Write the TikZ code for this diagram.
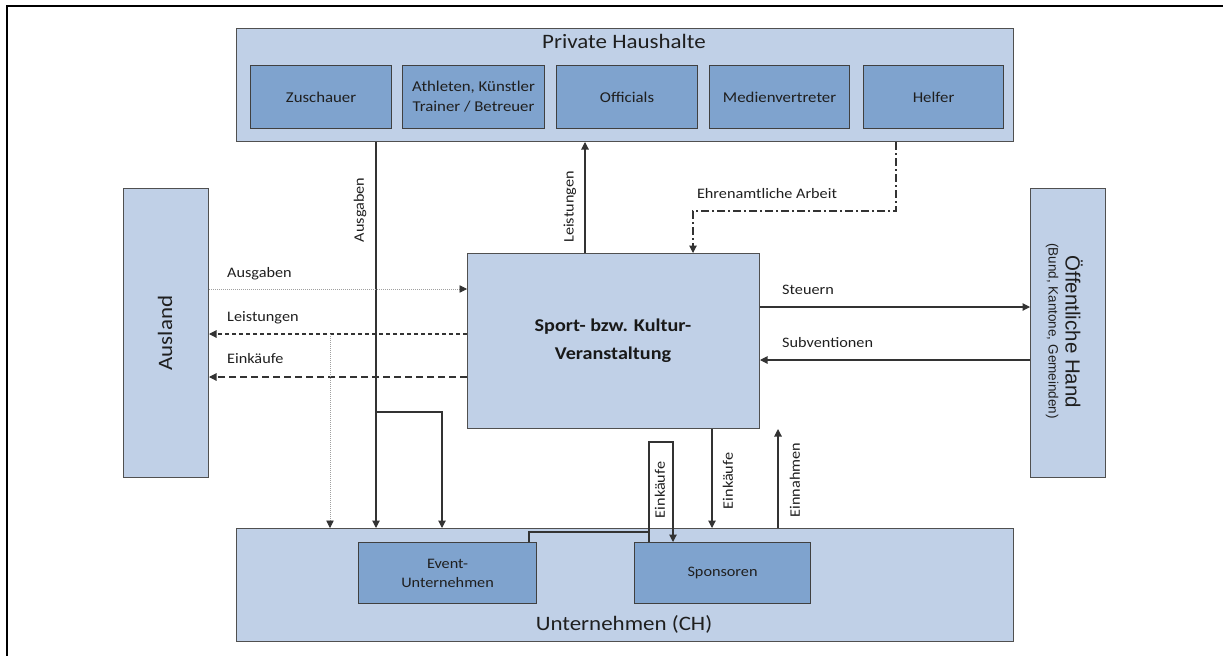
\documentclass[tikz,border=0pt]{standalone}
\usepackage{fontspec}
\setmainfont{Carlito}[FakeStretch=1.12]
\newfontfamily\arialf{Liberation Sans}
\usetikzlibrary{arrows.meta}
\definecolor{lightbox}{HTML}{C0D0E7}
\definecolor{darkbox}{HTML}{7FA3CE}
\definecolor{edgegray}{HTML}{505050}
\definecolor{linegray}{HTML}{333333}
\definecolor{dotgray}{HTML}{A0A0A0}
\definecolor{txt}{HTML}{1F1F1F}
\begin{document}
\begin{tikzpicture}[x=1pt,y=-1pt,
  outerbox/.style={draw=edgegray, fill=lightbox, line width=1pt, anchor=north west, inner sep=0pt},
  innerbox/.style={draw=black!75, fill=darkbox, line width=1.1pt, anchor=north west, inner sep=0pt, align=center, text=txt, font=\fontsize{15}{20}\selectfont},
  conn/.style={draw=linegray, line width=1.1pt},
  tip/.style={-{Triangle[length=7.5pt,width=7.5pt,color=linegray]}},
  arr/.style={conn, tip},
  dotarr/.style={draw=dotgray, line width=0.8pt, dash pattern=on 1pt off 1pt, tip},
  shortdash/.style={conn, dash pattern=on 4pt off 3pt, tip},
  longdash/.style={conn, dash pattern=on 7.5pt off 3.5pt, tip},
  dashdotarr/.style={conn, dash pattern=on 8pt off 3pt on 2pt off 3pt, tip},
  lbl/.style={text=txt, font=\fontsize{14.5}{17}\selectfont, inner sep=0pt},
  bigtext/.style={text=txt, font=\fontsize{20.5}{24}\selectfont, inner sep=0pt},
]
\useasboundingbox (0,0) rectangle (1223,656);
\draw[line width=2.5pt, black] (1223,6) -- (7,6) -- (7,656);

% boxes
\node[outerbox, minimum width=777pt, minimum height=113pt] (ph) at (236,28) {};
\node[bigtext] (phT) at (624,41) {Private Haushalte};
\node[innerbox, minimum width=141pt, minimum height=63pt] (zu) at (250,65) {Zuschauer};
\node[innerbox, minimum width=142pt, minimum height=63pt] (ath) at (402,65) {Athleten, Künstler\\Trainer / Betreuer};
\node[innerbox, minimum width=141pt, minimum height=63pt] (off) at (556,65) {Officials};
\node[innerbox, minimum width=140pt, minimum height=63pt] (med) at (709,65) {Medienvertreter};
\node[innerbox, minimum width=140pt, minimum height=63pt] (hel) at (863,65) {Helfer};

\node[outerbox, minimum width=85pt, minimum height=289pt] (aus) at (123,188) {};
\node[bigtext, rotate=90] (ausT) at (165,333) {Ausland};

\node[outerbox, minimum width=292pt, minimum height=175pt] (sport) at (467,253) {};
\node[text=black!90, font=\bfseries\fontsize{18}{28}\selectfont, align=center, inner sep=0pt] (sportT) at (613,341) {Sport- bzw. Kultur-\\Veranstaltung};

\node[outerbox, minimum width=75pt, minimum height=289pt] (oh) at (1030,188) {};
\node[text=txt, font=\arialf\fontsize{20.5}{24}\selectfont, rotate=-90, inner sep=0pt] (ohT) at (1074,332) {Öffentliche Hand};
\node[text=txt, font=\arialf\fontsize{13.5}{16}\selectfont, rotate=-90, inner sep=0pt] (ohS) at (1052,331) {(Bund, Kantone, Gemeinden)};

\node[outerbox, minimum width=777pt, minimum height=113pt] (u) at (236,528) {};
\node[bigtext] (uT) at (624,624) {Unternehmen (CH)};
\node[innerbox, minimum width=178pt, minimum height=61pt, font=\fontsize{14.5}{19}\selectfont] (ev) at (358,542) {Event-\\Unternehmen};
\node[innerbox, minimum width=176pt, minimum height=61pt, font=\fontsize{14.5}{19}\selectfont] (sp) at (634,542) {Sponsoren};

% helper coordinates
\coordinate (xA) at (376,0);
\coordinate (yB) at (0,412);
\coordinate (xB) at (442,0);
\coordinate (xL) at (585,0);
\coordinate (xH) at (896,0);
\coordinate (yH) at (0,211);
\coordinate (xS) at (693,0);
\coordinate (y1) at (0,289);
\coordinate (y2) at (0,334);
\coordinate (y3) at (0,377);
\coordinate (xD) at (330,0);
\coordinate (y4) at (0,307);
\coordinate (y5) at (0,360);
\coordinate (xE) at (712,0);
\coordinate (xN) at (778,0);
\coordinate (xP) at (529,0);
\coordinate (yP) at (0,532);
\coordinate (xQ) at (649,0);
\coordinate (yQ) at (0,442);
\coordinate (xR) at (673,0);

% connectors
\draw[arr] (ph.south -| xA) -- (u.north -| xA);
\draw[arr] (xA |- yB) -- (xB |- yB) -- (u.north -| xB);
\draw[arr] (sport.north -| xL) -- (ph.south -| xL);
\draw[dashdotarr] (ph.south -| xH) |- (xS |- yH) -- (sport.north -| xS);
\draw[dotarr] (aus.east |- y1) -- (sport.west |- y1);
\draw[shortdash] (sport.west |- y2) -- (aus.east |- y2);
\draw[longdash] (sport.west |- y3) -- (aus.east |- y3);
\draw[dotarr] (xD |- y2) -- (u.north -| xD);
\draw[arr] (sport.east |- y4) -- (oh.west |- y4);
\draw[arr] (oh.west |- y5) -- (sport.east |- y5);
\draw[arr] (sport.south -| xE) -- (u.north -| xE);
\draw[arr] (u.north -| xN) -- (sport.south -| xN);
\draw[conn] (ev.north -| xP) |- (xQ |- yP);
\draw[arr] (sp.north -| xQ) |- (xR |- yQ) -- (sp.north -| xR);

% labels
\node[lbl, rotate=90] (lAusV) at (360,210) {Ausgaben};
\node[lbl, rotate=90] (lLeiV) at (570,207) {Leistungen};
\node[lbl] (lEhr) at (767,194) {Ehrenamtliche Arbeit};
\node[lbl, anchor=west] (lAusH) at (227,274) {Ausgaben};
\node[lbl, anchor=west] (lLeiH) at (227,318) {Leistungen};
\node[lbl, anchor=west] (lEinH) at (227,359) {Einkäufe};
\node[lbl, anchor=west] (lSt) at (782,290) {Steuern};
\node[lbl, anchor=west] (lSub) at (782,343) {Subventionen};
\node[lbl, rotate=90] (lEin1) at (660,490) {Einkäufe};
\node[lbl, rotate=90] (lEin2) at (728,481) {Einkäufe};
\node[lbl, rotate=90] (lEinn) at (795,480) {Einnahmen};
\end{tikzpicture}
\end{document}
